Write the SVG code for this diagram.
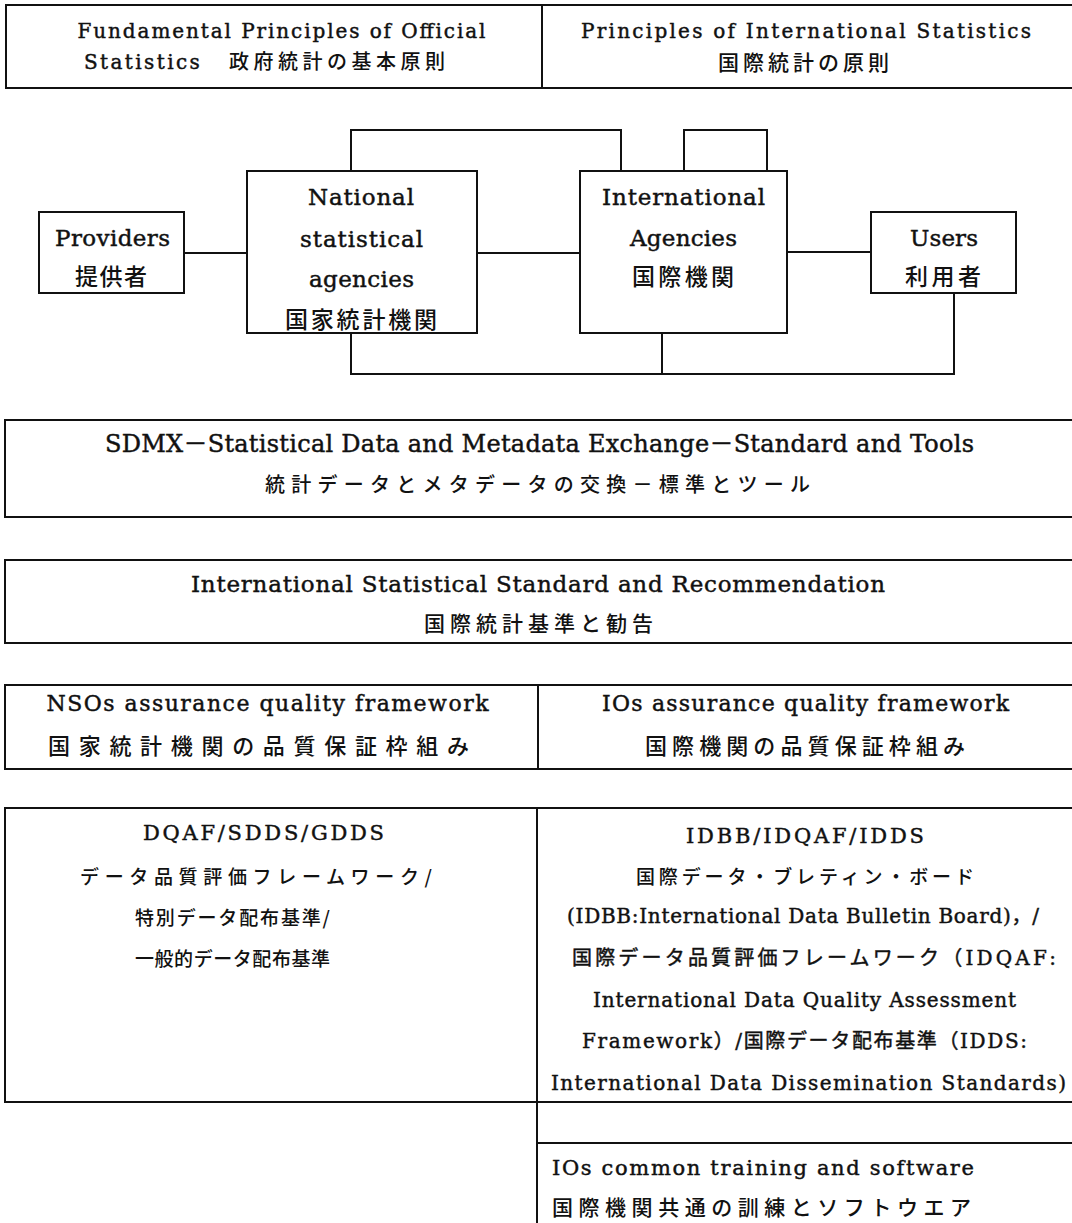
<svg xmlns="http://www.w3.org/2000/svg" width="1072" height="1223" viewBox="0 0 1072 1223">
<style>
.box{fill:#fff;stroke:#111;stroke-width:2}
.ln{fill:none;stroke:#111;stroke-width:2}
text{fill:#111;stroke:#111;stroke-width:0.45;font-family:"DejaVu Serif","Noto Sans CJK JP",serif;font-size:20px}
.jp{font-family:"Noto Sans CJK JP",sans-serif;font-weight:500;stroke:none}
.d{font-size:23px}
.s24{font-size:24px}
.s22{font-size:22px}
.s21{font-size:21px}
.s19{font-size:19px}
</style>
<rect width="1072" height="1223" fill="#fff"/>

<g id="connectors">
<path class="ln" d="M184 253 H247"/>
<path class="ln" d="M477 253 H580"/>
<path class="ln" d="M787 252 H871"/>
<path class="ln" d="M351 171 V130 H621 V171"/>
<path class="ln" d="M684 171 V130 H767 V171"/>
<path class="ln" d="M351 333 V374 H954 V293"/>
<path class="ln" d="M662 333 V374"/>
<path class="ln" d="M537 1102 V1143"/>
</g>

<g id="fundamental-principles">
<rect class="box" x="6" y="5" width="536" height="83"/>
<text x="77.5" y="38" textLength="408">Fundamental Principles of Official</text>
<text y="69"><tspan x="84" letter-spacing="2.4">Statistics　</tspan><tspan class="jp" x="229" letter-spacing="4.5">政府統計の基本原則</tspan></text>
</g>

<g id="international-principles">
<rect class="box" x="542" y="5" width="540" height="83"/>
<text x="581" y="38" textLength="450">Principles of International Statistics</text>
<text class="jp s21" x="718" y="70" textLength="171">国際統計の原則</text>
</g>

<g id="providers">
<rect class="box" x="39" y="212" width="145" height="81"/>
<text class="d" x="55" y="246" textLength="115">Providers</text>
<text class="jp d" x="75" y="285" textLength="72">提供者</text>
</g>

<g id="national-agencies">
<rect class="box" x="247" y="171" width="230" height="162"/>
<text class="d" x="308" y="205" textLength="106">National</text>
<text class="d" x="300" y="247" textLength="123">statistical</text>
<text class="d" x="309" y="287" textLength="105">agencies</text>
<text class="jp d" x="285" y="328" textLength="152">国家統計機関</text>
</g>

<g id="international-agencies">
<rect class="box" x="580" y="171" width="207" height="162"/>
<text class="d" x="602" y="205" textLength="163">International</text>
<text class="d" x="630" y="246" textLength="107">Agencies</text>
<text class="jp d" x="632" y="285" textLength="102">国際機関</text>
</g>

<g id="users">
<rect class="box" x="871" y="212" width="145" height="81"/>
<text class="d" x="910" y="246" textLength="68">Users</text>
<text class="jp d" x="905" y="285" textLength="76">利用者</text>
</g>

<g id="sdmx">
<rect class="box" x="5" y="420" width="1075" height="97"/>
<text class="s24" x="105" y="452" textLength="869">SDMX－Statistical Data and Metadata Exchange－Standard and Tools</text>
<text class="jp" x="265" y="492" textLength="545">統計データとメタデータの交換－標準とツール</text>
</g>

<g id="intl-standard">
<rect class="box" x="5" y="560" width="1075" height="83"/>
<text class="d" x="191" y="592" textLength="694">International Statistical Standard and Recommendation</text>
<text class="jp s21" x="424" y="631" textLength="229">国際統計基準と勧告</text>
</g>

<g id="nso-quality">
<rect class="box" x="5" y="685" width="533" height="84"/>
<text class="s22" x="46.5" y="711" textLength="442">NSOs assurance quality framework</text>
<text class="jp s22" x="48" y="754" textLength="421">国家統計機関の品質保証枠組み</text>
</g>

<g id="ios-quality">
<rect class="box" x="538" y="685" width="540" height="84"/>
<text class="s22" x="602" y="711" textLength="407">IOs assurance quality framework</text>
<text class="jp s22" x="645" y="754" textLength="320">国際機関の品質保証枠組み</text>
</g>

<g id="dqaf">
<rect class="box" x="5" y="808" width="532" height="294"/>
<text class="s21" x="143" y="840" textLength="241">DQAF/SDDS/GDDS</text>
<text class="jp s19" x="80" y="884" textLength="352">データ品質評価フレームワーク/</text>
<text class="jp s19" x="135" y="925" textLength="195">特別データ配布基準/</text>
<text class="jp s19" x="135" y="966" textLength="195">一般的データ配布基準</text>
</g>

<g id="idbb">
<rect class="box" x="537" y="808" width="540" height="294"/>
<text class="s21" x="686" y="843" textLength="238">IDBB/IDQAF/IDDS</text>
<text class="jp s19" x="636" y="884" textLength="338">国際データ・ブレティン・ボード</text>
<text x="567" y="923" textLength="472">(IDBB:International Data Bulletin Board)，/</text>
<text x="572" y="965" textLength="484">国際データ品質評価フレームワーク（IDQAF:</text>
<text x="593" y="1007" textLength="423">International Data Quality Assessment</text>
<text x="582" y="1048" textLength="445">Framework）/国際データ配布基準（IDDS:</text>
<text x="551" y="1090" textLength="515">International Data Dissemination Standards)</text>
</g>

<g id="ios-training">
<rect class="box" x="537" y="1143" width="540" height="90"/>
<text class="s21" x="552" y="1175" textLength="422">IOs common training and software</text>
<text class="jp s21" x="552" y="1215" textLength="419">国際機関共通の訓練とソフトウエア</text>
</g>
</svg>
